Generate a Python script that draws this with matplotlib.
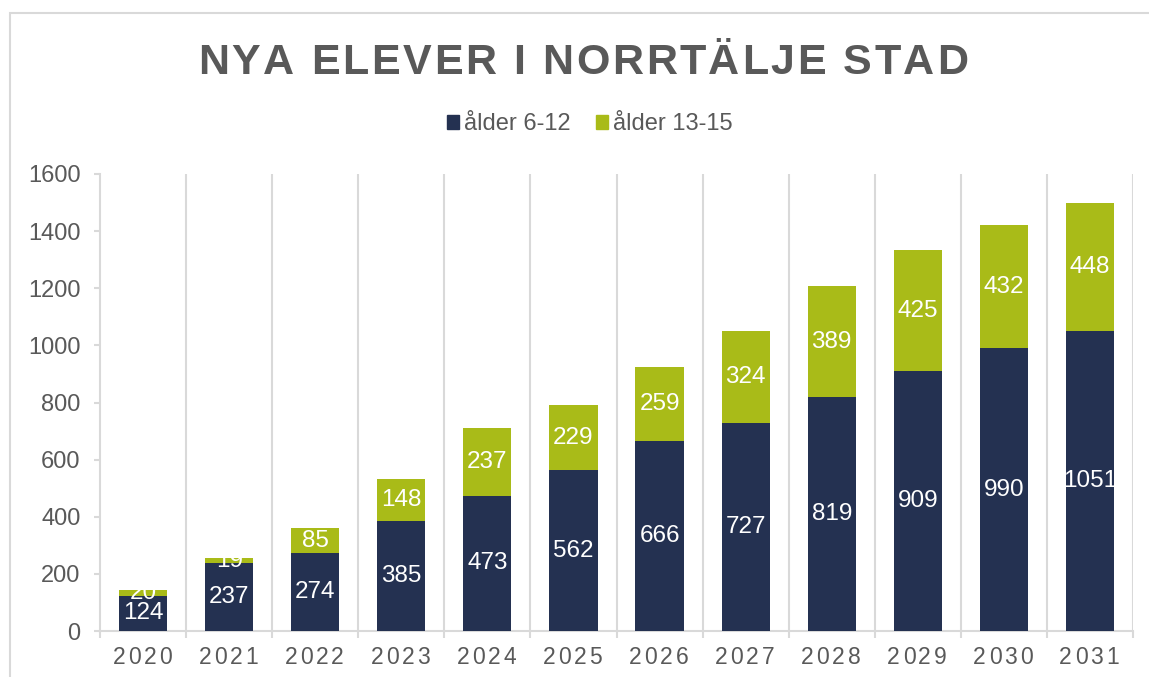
import matplotlib
matplotlib.use("Agg")
import matplotlib.pyplot as plt
from matplotlib.font_manager import FontProperties, findfont, get_font
from matplotlib.patches import Patch, Rectangle

years = ["2020", "2021", "2022", "2023", "2024", "2025",
         "2026", "2027", "2028", "2029", "2030", "2031"]
age_6_12 = [124, 237, 274, 385, 473, 562, 666, 727, 819, 909, 990, 1051]
age_13_15 = [20, 19, 85, 148, 237, 229, 259, 324, 389, 425, 432, 448]
series_names = ["ålder 6-12", "ålder 13-15"]
title = "NYA ELEVER I NORRTÄLJE STAD"

W, H, DPI = 1149, 677, 100
navy = "#243151"
green = "#a9bb18"
grey_txt = "#595959"
grey_line = "#d9d9d9"
FONT = "Liberation Sans"

plt.rcParams["font.family"] = [FONT, "DejaVu Sans"]

fig = plt.figure(figsize=(W / DPI, H / DPI), dpi=DPI)
fig.subplots_adjust(left=100 / W, right=1133 / W, bottom=1 - 631 / H, top=1 - 174 / H)
ax = fig.add_subplot(111)

# outer chart border
fig.patches.append(Rectangle((10 / W, -0.1), 1.2, 1 - 13 / H + 0.1, transform=fig.transFigure,
                             fill=False, edgecolor=grey_line, lw=1.5, zorder=0))


def spaced_text(x_center, y_base, s, size, spacing, weight="normal", color=grey_txt):
    # draw text char by char with extra letter spacing (pixels)
    fp = FontProperties(family=FONT, size=size, weight=weight)
    font = get_font(findfont(fp))
    font.set_size(size, DPI)
    advs = [font.load_char(ord(c)).linearHoriAdvance / 65536 for c in s]
    total = sum(advs) + spacing * (len(s) - 1)
    x = x_center - total / 2
    for c, a in zip(s, advs):
        if c != " ":
            fig.text((x + a / 2) / W, 1 - y_base / H, c, fontproperties=fp, color=color,
                     ha="center", va="baseline")
        x += a + spacing


x = list(range(len(years)))
b1 = ax.bar(x, age_6_12, width=0.56, color=navy, label=series_names[0], zorder=3)
b2 = ax.bar(x, age_13_15, width=0.56, bottom=age_6_12, color=green, label=series_names[1], zorder=3)
ax.bar_label(b1, labels=[str(v) for v in age_6_12], label_type="center", color="white", fontsize=17.5)
ax.bar_label(b2, labels=[str(v) for v in age_13_15], label_type="center", color="white", fontsize=17.5)

ax.set_xlim(-0.5, len(years) - 0.5)
ax.set_ylim(0, 1600)
ax.set_yticks(range(0, 1601, 200))
ax.tick_params(axis="y", labelsize=17, labelcolor=grey_txt, color=grey_line,
               length=4, width=1.5, pad=10)
ax.set_xticks([i - 0.5 for i in range(len(years) + 1)])
ax.set_xticklabels([])
ax.tick_params(axis="x", color=grey_line, length=5, width=1.5)

for i in range(1, len(years) + 1):
    ax.axvline(i - 0.5, color=grey_line, lw=1.5, zorder=1)

for side in ["top", "right"]:
    ax.spines[side].set_visible(False)
for side in ["left", "bottom"]:
    ax.spines[side].set_color(grey_line)
    ax.spines[side].set_linewidth(1.5)

# spaced x tick labels
for i, yr in enumerate(years):
    px = ax.transData.transform((i, 0))[0]
    spaced_text(px - 1, 664, yr, 16.5, 2.8)

spaced_text(583, 74, title, 31, 2.6, weight="bold")

handles = [Patch(color=navy), Patch(color=green)]
fig.legend(handles, series_names, loc="center", bbox_to_anchor=(590 / W, 1 - 124 / H), ncol=2,
           frameon=False, fontsize=17, labelcolor=grey_txt, handlelength=0.5, handleheight=0.55,
           handletextpad=0.2, columnspacing=1.1)

fig.savefig("out.png", dpi=DPI)
plt.close(fig)
